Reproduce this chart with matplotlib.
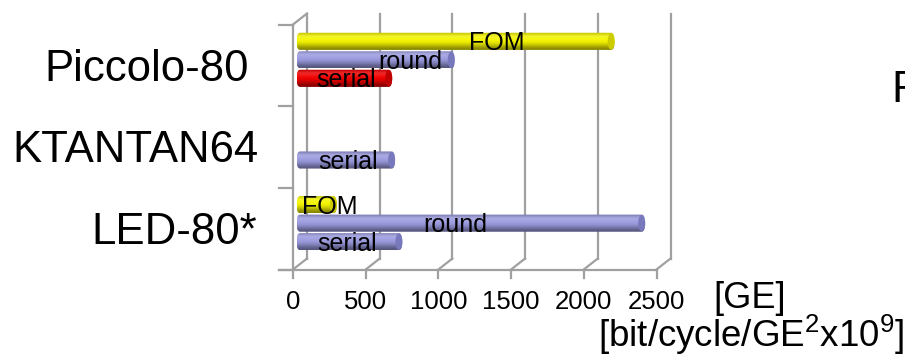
import numpy as np
import matplotlib.pyplot as plt
from matplotlib.patches import FancyBboxPatch, Ellipse
from matplotlib.lines import Line2D
from matplotlib.transforms import IdentityTransform
from matplotlib.colors import to_rgb

plt.rcParams['font.family'] = ['Liberation Sans', 'DejaVu Sans']
plt.rcParams['mathtext.fontset'] = 'custom'
plt.rcParams['mathtext.rm'] = 'Liberation Sans'
plt.rcParams['mathtext.it'] = 'Liberation Sans:italic'

ciphers = ['Piccolo-80', 'KTANTAN64', 'LED-80*']
fom = [2140, np.nan, 230]          # bit/cycle/GE^2 x10^9
round_ge = [1040, np.nan, 2350]    # GE, round based
serial_ge = [610, 630, 680]        # GE, serialized
series_names = ['FOM', 'round', 'serial']
xticks = [0, 500, 1000, 1500, 2000, 2500]

W, H = 905, 359
fig = plt.figure(figsize=(W / 100, H / 100), dpi=100)

# middle plane of the 3d box (pixels from top-left)
x0_px, x1_px = 300, 663.5
ytop_px, ybot_px = 19, 264
pxu = (x1_px - x0_px) / 2500
pyu = (ybot_px - ytop_px) / 3
xlo, xhi, ylo, yhi = -100, 2600, -0.2, 3.2
ax = fig.add_axes([(x0_px + xlo * pxu) / W, 1 - (ybot_px - ylo * pyu) / H,
                   (xhi - xlo) * pxu / W, (yhi - ylo) * pyu / H])
ax.set_xlim(xlo, xhi)
ax.set_ylim(ylo, yhi)
ax.axis('off')
ax.set_zorder(2)

DX, DY = 7, 5.5   # depth offset: +1 back wall, -1 front edge


def pt(x, y, depth=0):
    dx, dy = ax.transData.transform((x, y))
    return dx + depth * DX, dy + depth * DY


def seg(p, q):
    fig.add_artist(Line2D([p[0], q[0]], [p[1], q[1]], transform=IdentityTransform(),
                          color='#a0a0a0', lw=1.6, solid_capstyle='projecting', zorder=1))


# back grid + floor diagonals
for t in xticks:
    seg(pt(t, 0, 1), pt(t, 3, 1))
    seg(pt(t, 0, 1), pt(t, 0, -1))
    fx, fy = pt(t, 0, -1)
    seg((fx, fy), (fx, fy - 8))
# front floor edge and left wall
fx, fy = pt(0, 0, -1)
seg((fx - 14, fy), pt(2500, 0, -1))
seg(pt(0, 0, -1), pt(0, 3, -1))
seg(pt(0, 3, -1), pt(0, 3, 1))
for k in range(4):
    wx, wy = pt(0, k, -1)
    seg((wx - 14, wy), (wx, wy))


def shade(c, f):
    c = np.array(to_rgb(c))
    return np.clip(c * f, 0, 1) if f <= 1 else c + (1 - c) * (f - 1)


profile = [0.8, 1.2, 1.08, 1.0, 0.9, 0.72, 0.55]


def cylinder(v, yc, h, color, cap):
    rx = 3.5 / pxu
    body = FancyBboxPatch((-rx, yc - h / 2), v + 2 * rx, h,
                          boxstyle=f'round,pad=0,rounding_size={rx}',
                          mutation_aspect=h / (2 * rx),
                          facecolor='none', edgecolor='none')
    ax.add_patch(body)
    grad = np.array([shade(color, f) for f in profile])[:, None, :]
    im = ax.imshow(grad, extent=(-rx, v + rx, yc - h / 2, yc + h / 2),
                   aspect='auto', interpolation='bicubic', zorder=3)
    im.set_clip_path(body)
    ax.add_patch(Ellipse((v, yc), 2 * rx, h * 0.96, facecolor=cap,
                         edgecolor='none', zorder=4))


body_colors = {'FOM': ('#f4f400', '#cccc00'),
               'round': ('#9c9ce0', '#7878bc'),
               'serial': ('#9c9ce0', '#7878bc')}
highlight = ('#f00000', '#c00000')
offsets = [0.2265, 0.0, -0.2265]
bar_h = 0.21
label_dx = [[41, 35, 2], [0, 0, 2], [13, -16, -2]]

for i, name in enumerate(ciphers):
    yc0 = 2.5 - i
    for j, (vals, label) in enumerate(zip([fom, round_ge, serial_ge], series_names)):
        v = vals[i]
        if np.isnan(v):
            continue
        col, cap = body_colors[label]
        if name == 'Piccolo-80' and label == 'serial':
            col, cap = highlight
        yc = yc0 + offsets[j]
        cylinder(v, yc, bar_h, col, cap)
        ax.annotate(label, xy=(v / 2, yc), xytext=(label_dx[i][j] * 0.72, -9 * 0.72),
                    textcoords='offset points', ha='center', va='baseline',
                    fontsize=18, zorder=6)

cat_x = [44, 12, 91]
for i, name in enumerate(ciphers):
    ax.annotate(name, xy=(cat_x[i], 2.5 - i), xycoords=('figure pixels', 'data'),
                xytext=(0, -21 * 0.72), textcoords='offset points',
                ha='left', va='baseline', fontsize=31.5, annotation_clip=False)

for t in xticks:
    ax.annotate(str(t), xy=(t, 0), xytext=(-7 * 0.72, -45 * 0.72),
                textcoords='offset points', ha='center', va='baseline',
                fontsize=18.5, annotation_clip=False)

fig.text(713 / W, 1 - 308 / H, '[GE]', fontsize=26, ha='left', va='baseline')
fig.text(904 / W, 1 - 347 / H, '[bit/cycle/GE$^{2}$x10$^{9}$]', fontsize=26.5,
         ha='right', va='baseline')
fig.text(891 / W, 1 - 102 / H, 'F', fontsize=31.5, ha='left', va='baseline')

ax.set_xlim(xlo, xhi)
ax.set_ylim(ylo, yhi)
fig.savefig('out.png', dpi=100)
